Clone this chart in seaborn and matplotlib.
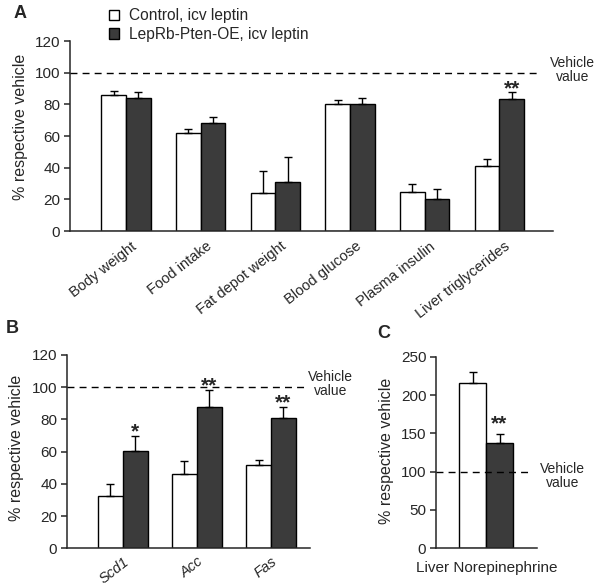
import numpy as np
import pandas as pd
import seaborn as sns
import matplotlib.pyplot as plt
from matplotlib.patches import Patch
from matplotlib.container import BarContainer
from matplotlib.transforms import ScaledTranslation

# ---- data ----
groups = ["Control, icv leptin", "LepRb-Pten-OE, icv leptin"]

a_cats = ["Body weight", "Food intake", "Fat depot weight",
          "Blood glucose", "Plasma insulin", "Liver triglycerides"]
a_ctrl = [86.0, 62.1, 24.0, 80.4, 24.6, 40.8]
a_ctrl_err = [2.3, 2.1, 13.7, 2.3, 4.8, 4.4]
a_pten = [84.2, 68.3, 30.8, 80.4, 20.2, 83.3]
a_pten_err = [3.9, 3.4, 15.7, 3.6, 6.3, 4.2]
a_stars = ["", "", "", "", "", "**"]

b_cats = ["Scd1", "Acc", "Fas"]
b_ctrl = [32.7, 45.9, 51.5]
b_ctrl_err = [7.4, 8.5, 3.5]
b_pten = [60.4, 87.7, 80.7]
b_pten_err = [9.1, 10.6, 6.8]
b_stars = ["*", "**", "**"]

c_cats = ["Liver Norepinephrine"]
c_ctrl = [216.0]
c_ctrl_err = [13.6]
c_pten = [137.0]
c_pten_err = [11.7]
c_stars = ["**"]

vehicle = 100

sns.set_style("ticks")
plt.rcParams["font.family"] = ["Liberation Sans", "DejaVu Sans"]
plt.rcParams["axes.linewidth"] = 1.1

colors = ["white", "#3b3b3b"]
fig = plt.figure(figsize=(6.0, 5.86), dpi=100)
px = 1 / 100  # one pixel in inches


def shift(dx, dy):
    return ScaledTranslation(dx * px, dy * px, fig.dpi_scale_trans)


def panel(ax, cats, ctrl, ctrl_err, pten, pten_err, stars, width, star_gap):
    df = pd.DataFrame({
        "cat": cats * 2,
        "val": ctrl + pten,
        "grp": [groups[0]] * len(cats) + [groups[1]] * len(cats),
    })
    sns.barplot(data=df, x="cat", y="val", hue="grp", palette=colors,
                edgecolor="black", linewidth=1.0, width=width,
                errorbar=None, legend=False, ax=ax)
    errs = [ctrl_err, pten_err]
    vals = [ctrl, pten]
    bars = [c for c in ax.containers if isinstance(c, BarContainer)]
    for k, cont in enumerate(bars):
        xs = [p.get_x() + p.get_width() / 2 for p in cont.patches]
        ax.errorbar(xs, vals[k], yerr=[np.zeros(len(xs)), errs[k]],
                    fmt="none", ecolor="black", elinewidth=1.0,
                    capsize=2.7, capthick=1.0, zorder=1)
        if k == 1:
            for x, v, e, s in zip(xs, vals[k], errs[k], stars):
                if s:
                    # star centre sits star_gap pixels above the error cap
                    ax.text(x, v + e, s, ha="center", va="baseline",
                            fontsize=15, fontweight="bold",
                            transform=ax.transData + shift(0, star_gap - 12))
    sns.despine(ax=ax)
    ax.set_xlabel("")
    ax.set_ylabel("% respective vehicle", fontsize=11.5)
    ax.tick_params(axis="x", length=0)
    ax.tick_params(axis="y", labelsize=11, length=4, width=1.1, pad=3)


def vehicle_line(ax, x_end, x_text, y_text):
    ax.plot([0, x_end], [vehicle, vehicle], transform=ax.get_yaxis_transform(),
            color="black", ls=(0, (5, 3.7)), lw=1.0, clip_on=False, zorder=3)
    ax.text(x_text, y_text, "Vehicle\nvalue", transform=ax.get_yaxis_transform(),
            ha="center", va="center", fontsize=10, linespacing=1.0)


# ---- panel A ----
axA = fig.add_axes([0.1167, 0.6058, 0.805, 0.3242])
panel(axA, a_cats, a_ctrl, a_ctrl_err, a_pten, a_pten_err, a_stars, 0.66, 10)
axA.set_xlim(-0.75, 5.72)
axA.set_ylim(0, 120)
axA.set_yticks(range(0, 121, 20))
axA.set_xticks(range(len(a_cats)))
axA.set_xticklabels(a_cats, rotation=38, ha="right", va="top",
                    rotation_mode="anchor", fontsize=10.5)
axA.tick_params(axis="x", pad=6)
for lab in axA.get_xticklabels():
    lab.set_transform(lab.get_transform() + shift(5, 0))
axA.yaxis.set_label_coords(-0.087, 0.55)
vehicle_line(axA, 0.973, 1.041, 101.7)

handles = [Patch(facecolor=c, edgecolor="black", linewidth=1.0) for c in colors]
fig.legend(handles, groups, loc="upper left", bbox_to_anchor=(0.182, 0.986),
           frameon=False, fontsize=11.2, handlelength=0.65, handleheight=0.65,
           handletextpad=0.6, labelspacing=0.25, borderpad=0,
           borderaxespad=0)

# ---- panel B ----
axB = fig.add_axes([0.1117, 0.0643, 0.405, 0.33])
panel(axB, b_cats, b_ctrl, b_ctrl_err, b_pten, b_pten_err, b_stars, 0.67, 11)
axB.set_xlim(-0.75, 2.525)
axB.set_ylim(0, 120)
axB.set_yticks(range(0, 121, 20))
axB.set_xticks(range(len(b_cats)))
axB.set_xticklabels(b_cats, rotation=38, ha="right", va="top",
                    rotation_mode="anchor", fontsize=10.5, style="italic")
axB.tick_params(axis="x", pad=4.5)
axB.yaxis.set_label_coords(-0.179, 0.52)
vehicle_line(axB, 0.98, 1.086, 102)

# ---- panel C ----
axC = fig.add_axes([0.7267, 0.0643, 0.1678, 0.327])
panel(axC, c_cats, c_ctrl, c_ctrl_err, c_pten, c_pten_err, c_stars, 0.54, 17)
axC.set_xlim(-0.5, 0.507)
axC.set_ylim(0, 250)
axC.set_yticks(range(0, 251, 50))
axC.set_xticks([])
axC.set_xlabel(c_cats[0], fontsize=11, labelpad=9)
axC.yaxis.set_label_coords(-0.417, 0.508)
vehicle_line(axC, 0.95, 1.26, 94.6)

# panel letters
fig.text(0.022, 0.9693, "A", fontsize=13, fontweight="bold", va="baseline")
fig.text(0.010, 0.4317, "B", fontsize=13, fontweight="bold", va="baseline")
fig.text(0.628, 0.4232, "C", fontsize=13, fontweight="bold", va="baseline")

fig.savefig("out.png", dpi=100)
